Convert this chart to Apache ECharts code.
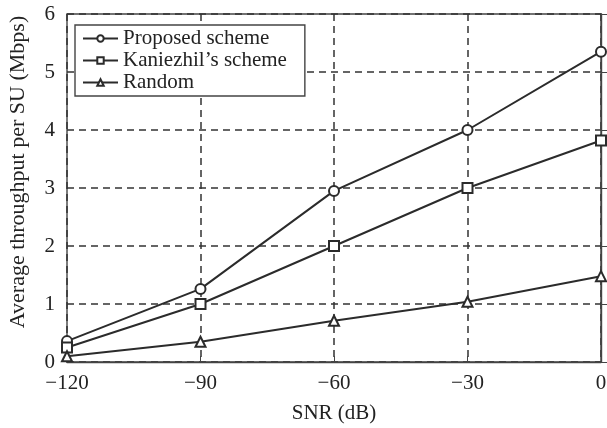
<!DOCTYPE html>
<html>
<head>
<meta charset="utf-8">
<script src="https://cdn.jsdelivr.net/npm/echarts@6/dist/echarts.min.js"></script>
<style>html,body{margin:0;padding:0;background:#fff;}#c{width:607px;height:428px;}</style>
</head>
<body>
<div id="c"></div>
<script>
const snr = [-120, -90, -60, -30, 0];
const proposed = [0.36, 1.26, 2.95, 4.0, 5.35];
const kaniezhil = [0.25, 1.0, 2.0, 3.0, 3.82];
const random = [0.1, 0.35, 0.71, 1.04, 1.48];
const seriesNames = ['Proposed scheme', "Kaniezhil\u2019s scheme", 'Random'];

const font = 'Liberation Serif';
const lineColor = '#2b2b2b';
function mk(name, vals, sym) {
  return {
    name: name, type: 'line', data: snr.map((x, i) => [x, vals[i]]),
    symbol: sym, symbolSize: 10,
    lineStyle: { color: lineColor, width: 2 },
    itemStyle: { color: lineColor, borderColor: lineColor, borderWidth: 1.4 },
    emphasis: { disabled: true }
  };
}
const chart = echarts.init(document.getElementById('c'));
chart.setOption({
  animation: false,
  backgroundColor: '#fff',
  grid: { left: 67, right: 6, top: 14, bottom: 66, show: true, borderColor: '#444', borderWidth: 1.4,
          containLabel: false, outerBoundsMode: 'none' },
  legend: {
    orient: 'vertical', left: 75, top: 25,
    backgroundColor: '#fff',
    borderColor: '#444', borderWidth: 1.4, padding: [3, 18, 3, 7],
    itemGap: 1, itemWidth: 35, itemHeight: 8,
    textStyle: { fontFamily: font, fontSize: 21, color: '#222', padding: [0, 0, 0, 0] },
    data: seriesNames
  },
  xAxis: {
    type: 'value', min: -120, max: 0, interval: 30,
    name: 'SNR (dB)', nameLocation: 'middle', nameGap: 41,
    nameTextStyle: { fontFamily: font, fontSize: 21, color: '#222' },
    axisLine: { lineStyle: { color: '#444', width: 1.4 } },
    axisTick: { inside: true, length: 6, lineStyle: { color: '#444' } },
    axisLabel: { fontFamily: font, fontSize: 21, color: '#222', margin: 11,
      formatter: v => String(v).replace('-', '\u2212') },
    splitLine: { show: true, lineStyle: { color: '#333', type: [7, 5], width: 1.5 } }
  },
  yAxis: {
    type: 'value', min: 0, max: 6, interval: 1,
    name: 'Average throughput per SU (Mbps)', nameLocation: 'middle', nameGap: 38,
    nameTextStyle: { fontFamily: font, fontSize: 22, color: '#222', padding: [0, 0, 0, 32] },
    axisLine: { show: true, lineStyle: { color: '#444', width: 1.4 } },
    axisTick: { show: true, inside: true, length: 6, lineStyle: { color: '#444' } },
    axisLabel: { fontFamily: font, fontSize: 21, color: '#222', margin: 12 },
    splitLine: { show: true, lineStyle: { color: '#333', type: [7, 5], width: 1.5 } }
  },
  series: [
    mk(seriesNames[0], proposed, 'emptyCircle'),
    mk(seriesNames[1], kaniezhil, 'emptyRect'),
    mk(seriesNames[2], random, 'emptyTriangle')
  ]
});
</script>
</body>
</html>
